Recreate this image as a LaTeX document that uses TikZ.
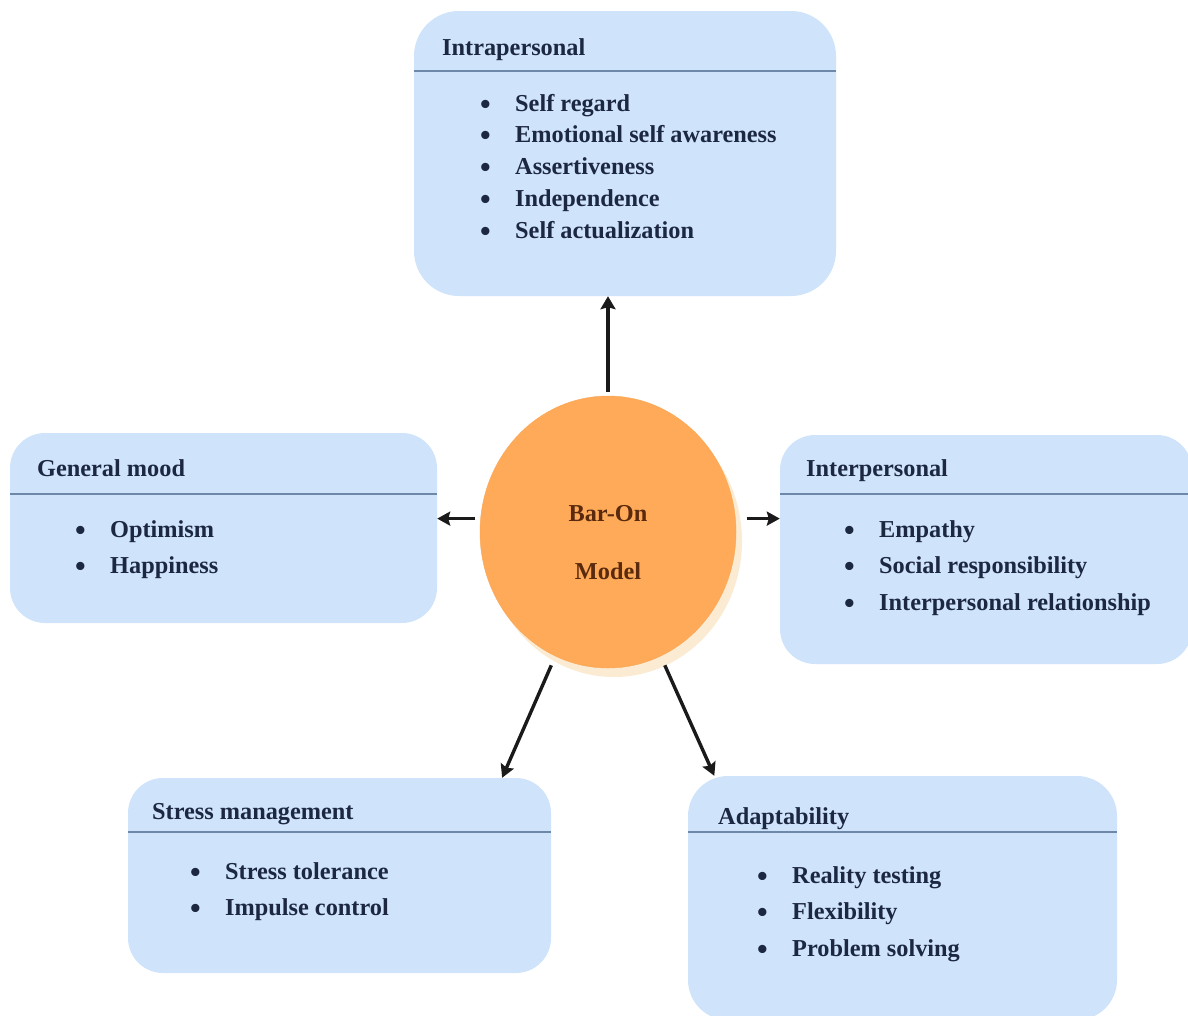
\documentclass[tikz,border=0pt]{standalone}
\usepackage{fontspec}
\setmainfont{Liberation Serif}
\usetikzlibrary{positioning}
\usetikzlibrary{arrows.meta}
\usetikzlibrary{shapes.geometric}
\usetikzlibrary{shadows}
\definecolor{boxblue}{HTML}{CFE3FB}
\definecolor{ruleblue}{HTML}{6D88A8}
\definecolor{hubfill}{HTML}{FFAA58}
\definecolor{hubrim}{HTML}{FBEBD2}
\definecolor{inknavy}{HTML}{1C2740}
\definecolor{inkbrown}{HTML}{5A2A0E}
\definecolor{arrowink}{HTML}{1A1A1A}
\newcommand{\bulletitem}[1]{\llap{\raisebox{-3pt}{\scalebox{1.25}{\textbullet}}\hspace{24.5pt}}#1}

\begin{document}
\begin{tikzpicture}[
                x=1pt, y=-1pt,
                groupbox/.style={rectangle, fill=boxblue, inner sep=0pt},
                headtext/.style={anchor=base west, inner sep=0pt, text=inknavy, font=\fontsize{24.3}{28}\selectfont\bfseries},
                itemtext/.style={headtext},
                huboval/.style={ellipse, fill=hubfill, draw=hubfill!90!brown, inner sep=0pt, minimum width=256pt, minimum height=272pt,
                    drop shadow={shadow xshift=6pt, shadow yshift=-9pt, fill=hubrim, opacity=1}},
                hubtext/.style={inner sep=0pt, align=center, text=inkbrown, font=\fontsize{24.3}{28}\selectfont\bfseries},
                headrule/.style={draw=ruleblue, line width=2.8pt},
                linkthick/.style={draw=arrowink, line width=4pt, -{Stealth[length=13pt, width=15pt, inset=2pt]}},
                linkthin/.style={draw=arrowink, line width=3.4pt, -{Stealth[length=13pt, width=14pt, inset=2pt]}},
            ]
            \useasboundingbox (0,0) rectangle (1188,1015);

            % Nodes
            \node[groupbox, rounded corners=45pt, minimum width=422pt, minimum height=285pt] (intra_box)  at (625,153.5) {};
            \node[groupbox, rounded corners=35pt, minimum width=427pt, minimum height=190pt] (mood_box)   at (223.5,528) {};
            \node[groupbox, rounded corners=35pt, minimum width=412pt, minimum height=229pt] (inter_box)  at (986,549.5) {};
            \node[groupbox, rounded corners=35pt, minimum width=423pt, minimum height=195pt] (stress_box) at (339.5,875.5) {};
            \node[groupbox, rounded corners=40pt, minimum width=429pt, minimum height=244pt] (adapt_box)  at (902.5,898) {};

            \node[huboval] (hub) at (608,532) {};
            \node[hubtext] (hub_label) at (608,542.5) {Bar-On\\[30pt]Model};

            \node[headtext] (intra_head) at (442,55) {Intrapersonal};
            \node[itemtext] (intra_1) at (515,111) {\bulletitem{Self regard}};
            \node[itemtext] (intra_2) at (515,142) {\bulletitem{Emotional self awareness}};
            \node[itemtext] (intra_3) at (515,174) {\bulletitem{Assertiveness}};
            \node[itemtext] (intra_4) at (515,206) {\bulletitem{Independence}};
            \node[itemtext] (intra_5) at (515,238) {\bulletitem{Self actualization}};

            \node[headtext] (mood_head) at (37,476) {General mood};
            \node[itemtext] (mood_1) at (110,537) {\bulletitem{Optimism}};
            \node[itemtext] (mood_2) at (110,573) {\bulletitem{Happiness}};

            \node[headtext] (inter_head) at (806,476) {Interpersonal};
            \node[itemtext] (inter_1) at (879,537) {\bulletitem{Empathy}};
            \node[itemtext] (inter_2) at (879,573) {\bulletitem{Social responsibility}};
            \node[itemtext] (inter_3) at (879,610) {\bulletitem{Interpersonal relationship}};

            \node[headtext] (stress_head) at (152,819) {Stress management};
            \node[itemtext] (stress_1) at (225,879) {\bulletitem{Stress tolerance}};
            \node[itemtext] (stress_2) at (225,915) {\bulletitem{Impulse control}};

            \node[headtext] (adapt_head) at (718,824) {Adaptability};
            \node[itemtext] (adapt_1) at (792,883) {\bulletitem{Reality testing}};
            \node[itemtext] (adapt_2) at (792,919) {\bulletitem{Flexibility}};
            \node[itemtext] (adapt_3) at (792,956) {\bulletitem{Problem solving}};

            %Rules
            \draw[headrule] (intra_box.west |- 0,71) -- (intra_box.east |- 0,71);
            \draw[headrule] (mood_box.west |- 0,494) -- (mood_box.east |- 0,494);
            \draw[headrule] (inter_box.west |- 0,494) -- (inter_box.east |- 0,494);
            \draw[headrule] (stress_box.west |- 0,832) -- (stress_box.east |- 0,832);
            \draw[headrule] (adapt_box.west |- 0,832) -- (adapt_box.east |- 0,832);

            %Lines
            \draw[linkthick, shorten <=4pt] (hub.north) -- (hub.north |- intra_box.south);
            \draw[linkthin, shorten <=5pt] (hub.174) -- (hub.174 -| mood_box.east);
            \draw[linkthin, shorten <=11pt] (hub.6) -- (hub.6 -| inter_box.west);
            \draw[linkthin, shorten <=10pt] (hub.-113) -- (stress_box.31);
            \draw[linkthin, shorten <=10pt] (hub.-67.5) -- (adapt_box.147);
        \end{tikzpicture}
\end{document}
